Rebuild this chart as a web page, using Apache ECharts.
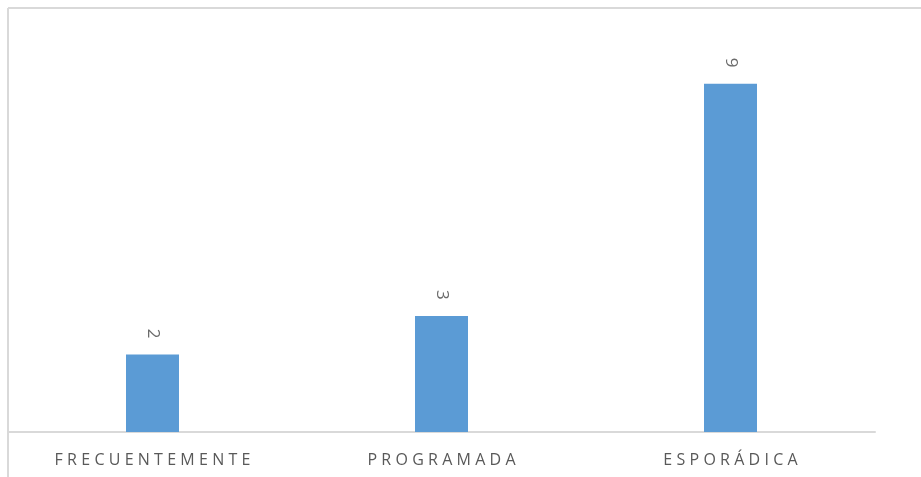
<!DOCTYPE html>
<html>
<head>
<meta charset="utf-8">
<script src="https://cdn.jsdelivr.net/npm/echarts@6/dist/echarts.min.js"></script>
<style>
  html, body { margin: 0; padding: 0; background: #fff; }
  #chart { width: 921px; height: 477px; }
</style>
</head>
<body>
<div id="chart"></div>
<script>
const categories = ['FRECUENTEMENTE', 'PROGRAMADA', 'ESPORÁDICA'];
const values = [2, 3, 9];

const chart = echarts.init(document.getElementById('chart'));

const option = {
  animation: false,
  grid: { left: 8, right: 46, top: 45, bottom: 45 },
  graphic: [
    { type: 'line', shape: { x1: 8, y1: 8, x2: 921, y2: 8 }, style: { stroke: '#d9d9d9', lineWidth: 2 } },
    { type: 'line', shape: { x1: 8, y1: 8, x2: 8, y2: 477 }, style: { stroke: '#d9d9d9', lineWidth: 2 } }
  ],
  xAxis: {
    type: 'category',
    data: categories,
    axisLine: { lineStyle: { color: '#d9d9d9', width: 2 } },
    axisTick: { show: false },
    axisLabel: {
      color: '#595959',
      fontFamily: 'Open Sans',
      fontSize: 16,
      margin: 20,
      // letter-spaced caps like the original
      formatter: v => v.split('').join('\u2009\u200A')
    }
  },
  yAxis: {
    type: 'value',
    min: 0,
    max: 10,
    show: false,
    splitLine: { show: false }
  },
  series: [{
    type: 'bar',
    data: values,
    barWidth: 53,
    itemStyle: { color: '#5b9bd5' },
    label: {
      show: true,
      position: 'top',
      rotate: -90,
      align: 'center',
      verticalAlign: 'middle',
      distance: 21,
      color: '#6b6b6b',
      fontFamily: 'Open Sans',
      fontSize: 17
    }
  }]
};

chart.setOption(option);
</script>
</body>
</html>
